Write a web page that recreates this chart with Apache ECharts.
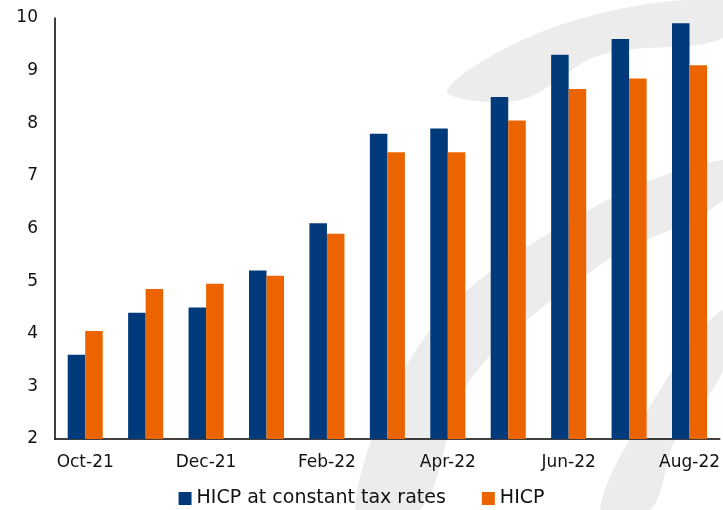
<!DOCTYPE html>
<html>
<head>
<meta charset="utf-8">
<script src="https://cdn.jsdelivr.net/npm/echarts@6/dist/echarts.min.js"></script>
<style>
  html, body { margin: 0; padding: 0; background: #fff; }
  #chart { width: 723px; height: 510px; }
</style>
</head>
<body>
<div id="chart"></div>
<script>
var months = ['Oct-21', 'Nov-21', 'Dec-21', 'Jan-22', 'Feb-22', 'Mar-22', 'Apr-22', 'May-22', 'Jun-22', 'Jul-22', 'Aug-22'];
var constantTax = [3.6, 4.4, 4.5, 5.2, 6.1, 7.8, 7.9, 8.5, 9.3, 9.6, 9.9];
var hicp = [4.05, 4.85, 4.95, 5.1, 5.9, 7.45, 7.45, 8.05, 8.65, 8.85, 9.1];

var fontFace = 'DejaVu Sans';
var chart = echarts.init(document.getElementById('chart'));

// faint background watermark
function swoosh(points) {
  return {
    type: 'polygon',
    silent: true,
    z: -10,
    shape: { points: points, smooth: 0.35 },
    style: { fill: '#ececec' }
  };
}

chart.setOption({
  animation: false,
  color: ['#003a7a', '#eb6400'],
  graphic: [
    swoosh([[447, 90], [560, 25], [723, 0], [723, 38], [600, 55], [520, 100]]),
    swoosh([[355, 510], [430, 330], [580, 215], [723, 160], [723, 200], [600, 265], [470, 380], [420, 510]]),
    swoosh([[600, 510], [660, 390], [723, 310], [723, 370], [675, 440], [650, 510]])
  ],
  grid: {
    left: 55,
    right: 3,
    top: 18,
    bottom: 71
  },
  legend: {
    bottom: -3,
    left: 'center',
    itemWidth: 13,
    itemHeight: 13,
    itemGap: 36,
    itemTextGap: 5,
    icon: 'rect',
    textStyle: { fontFamily: fontFace, fontSize: 19, color: '#111' },
    data: ['HICP at constant tax rates', 'HICP']
  },
  xAxis: {
    type: 'category',
    data: months,
    axisLine: { lineStyle: { color: '#000', width: 1.5 } },
    axisTick: { show: false },
    axisLabel: {
      interval: 1,
      fontFamily: fontFace,
      fontSize: 17,
      color: '#111',
      margin: 15
    }
  },
  yAxis: {
    type: 'value',
    min: 2,
    max: 10,
    interval: 1,
    axisLine: { show: true, lineStyle: { color: '#000', width: 1.5 } },
    axisTick: { show: false },
    splitLine: { show: false },
    axisLabel: {
      fontFamily: fontFace,
      fontSize: 17,
      color: '#111',
      margin: 17
    }
  },
  series: [{
    name: 'HICP at constant tax rates',
    type: 'bar',
    data: constantTax,
    barGap: '0%',
    barCategoryGap: '42%'
  }, {
    name: 'HICP',
    type: 'bar',
    data: hicp
  }]
});
</script>
</body>
</html>
